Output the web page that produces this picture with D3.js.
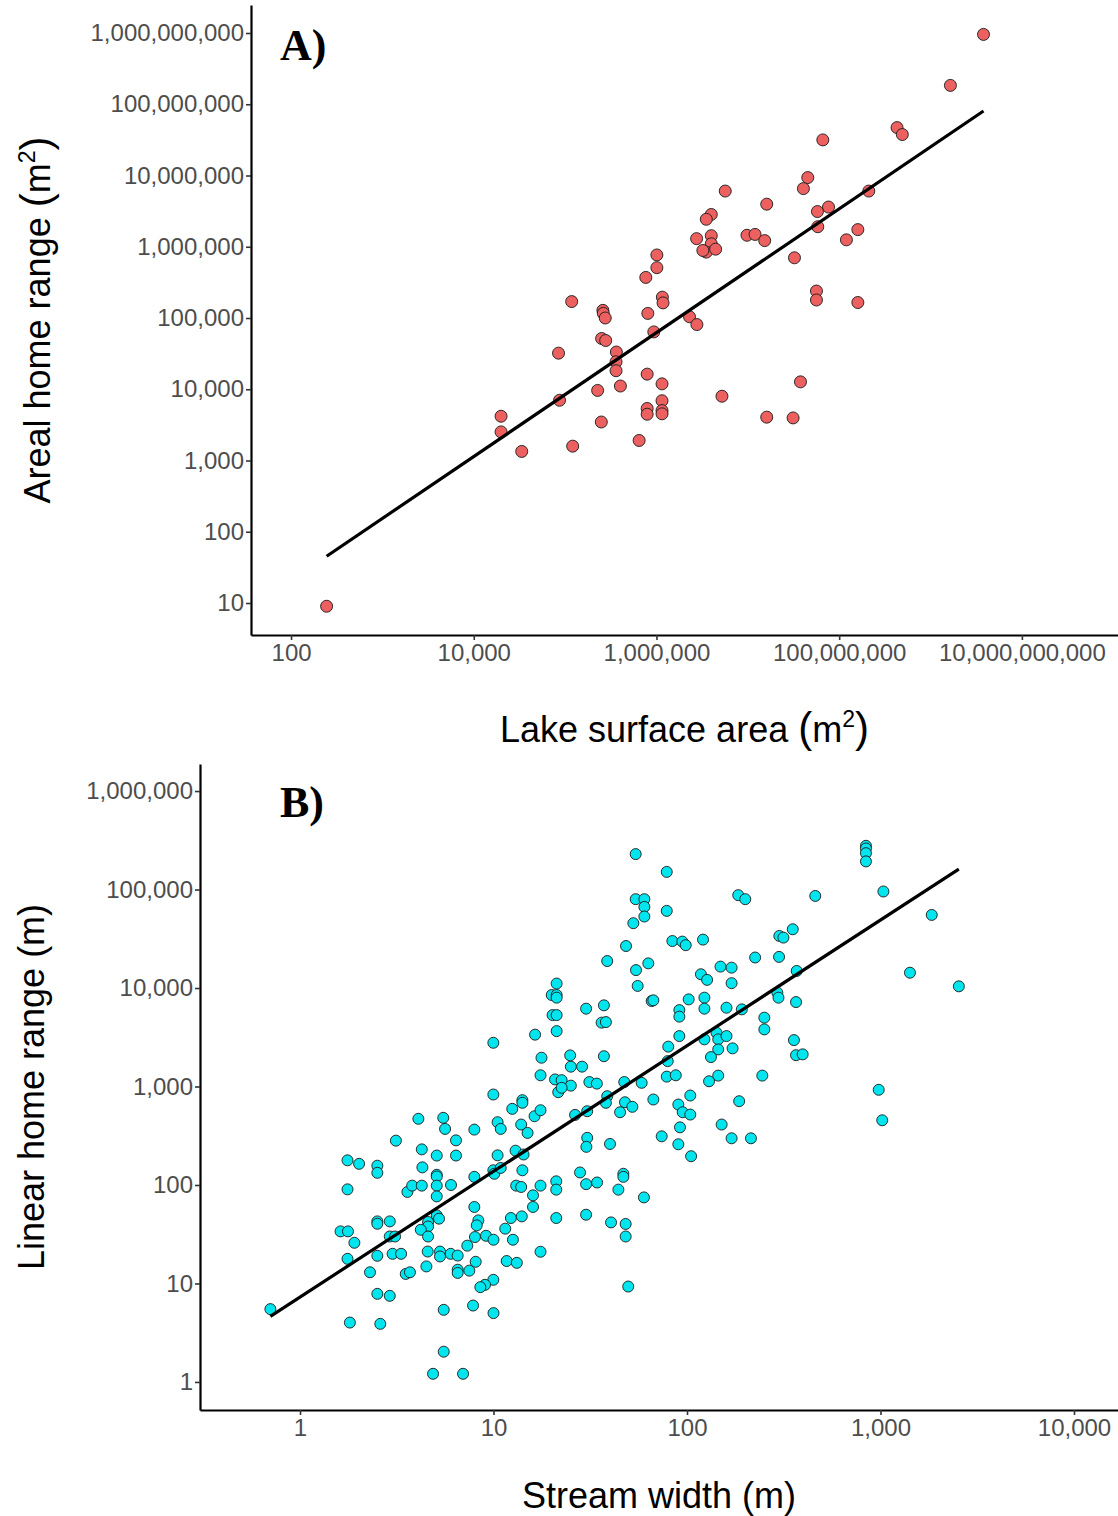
<!DOCTYPE html>
<html>
<head>
<meta charset="utf-8">
<script src="https://cdn.jsdelivr.net/npm/d3@7"></script>
<style>
  body { margin: 0; background: #ffffff; }
  svg { display: block; }
</style>
</head>
<body>
<svg id="chart" width="1118" height="1516"></svg>
<script>
// ---------- Panel A: lake surface area vs areal home range (both m^2) ----------
const lakeArea = [
  245, 19900, 19900, 33500, 84700, 86900, 121000, 118000, 227000, 249000,
  251000, 278000, 259000, 262000, 275000, 364000, 361000, 361000, 403000, 646000,
  791000, 791000, 791000, 804000, 764000, 1010000, 1010000, 935000, 1160000, 1180000,
  1150000, 1150000, 1150000, 1150000,
  3.80e9, 1.65e9, 4.30e8, 4.91e8, 6.62e7, 4.53e7, 4.06e7, 2.11e8, 7.64e7, 5.78e7,
  5.83e7, 1.60e8, 1.20e8, 3.24e7, 5.64e7, 5.64e7, 1.60e8, 5.66e6, 1.61e7, 3.98e6,
  3.51e6, 2.75e6, 3.98e6, 3.98e6, 3.51e6, 3.22e6, 4.44e6, 9.79e6, 1.20e7, 1.53e7,
  2.30e6, 2.77e6, 3.77e7, 5.21e6, 1.61e7, 3.13e7
];
const arealRange = [
  9.0, 4180, 2520, 1340, 32100, 7000, 1590, 170000, 9620, 3470,
  51600, 48300, 128000, 116000, 100000, 33300, 24300, 18200, 11100, 1910,
  5370, 4460, 16300, 116000, 371000, 767000, 509000, 63800, 196000, 163000,
  11900, 6900, 5020, 4520,
  9.55e8, 1.84e8, 4.70e7, 3.76e7, 3.16e7, 9.35e6, 6.55e6, 6.05e6, 3.61e6, 3.12e6,
  1.91e6, 1.74e6, 1.25e6, 7.0e5, 2.39e5, 1.79e5, 1.65e5, 6.05e6, 3.96e6, 2.84e6,
  2.43e6, 1.30e6, 1.43e6, 1.10e6, 8.41e5, 8.87e5, 9.25e5, 1.45e6, 1.49e6, 1.22e6,
  1.04e5, 8.09e4, 1.27e4, 7.98e3, 4.06e3, 3.96e3
];
// log10(range) = intercept + slope * log10(area)
const fitA = [-0.420, 0.869];
const areaTicksX = [1e2, 1e4, 1e6, 1e8, 1e10];
const areaTicksY = [1e1, 1e2, 1e3, 1e4, 1e5, 1e6, 1e7, 1e8, 1e9];

// ---------- Panel B: stream width (m) vs linear home range (m) ----------
const streamWidth = [
  0.703, 1.76, 2.02, 2.51, 2.51, 3.13, 4.26, 4.09, 4.29, 1.76,
  3.59, 3.80, 4.26, 2.51, 2.51, 2.91, 4.59, 4.59, 4.21, 4.59,
  1.62, 1.77, 1.91, 2.91, 3.10, 1.76, 2.51, 3.01, 3.33, 4.57,
  4.50, 2.30, 3.52, 3.70, 2.51, 2.91, 1.81, 2.60, 4.87,
  9.98, 14.1, 14.1, 12.5, 16.3, 17.5, 5.50, 5.62, 7.96, 10.5,
  10.9, 13.9, 15.0, 6.40, 5.09, 6.40, 10.5, 13.0, 14.3, 26.4,
  30.5, 30.5, 30.2, 21.6, 5.09, 5.09, 5.09, 5.09, 6.03, 7.96,
  9.98, 10.1, 10.9, 14.1, 13.1, 13.9, 17.5, 16.0, 16.0, 21.1,
  21.1, 28.0, 30.1, 34.3, 5.09, 5.23, 7.96, 8.35, 8.19, 8.02,
  9.15, 10.0, 11.5, 12.3, 14.0, 12.6, 21.1, 30.1, 7.32, 5.29,
  5.29, 6.01, 6.53, 17.5, 8.09, 7.50, 6.53, 6.53, 11.7, 13.2,
  9.98, 9.04, 8.55, 5.53, 7.84, 10.0, 5.53, 6.96,
  16.4, 9.98, 25.1, 28.7, 17.5, 20.8, 22.5, 25.1, 31.3, 34.2, 22.5,
  54.3, 78.6, 54.3, 60.2, 60.2, 60.2, 52.8, 78.6, 48.4, 84.0,
  94.6, 98.5, 121, 21.2, 20.0, 21.2, 21.2, 20.2, 21.2, 21.2,
  30.1, 17.7, 24.9,
  38.7, 54.5, 63.1, 55.6, 65.7, 67.0, 37.2, 36.2, 38.1, 102,
  118, 127, 149, 170, 170, 369, 91.3, 91.3, 123, 123,
  160, 192, 293, 297, 366, 251, 251, 357, 366, 37.2,
  91.3, 80.0, 79.5, 123, 142, 145, 160, 145, 133, 172,
  78.6, 87.5, 58.3, 47.4, 145, 130, 245, 38.7, 38.1, 47.8,
  52.2, 45.1, 67.0, 104, 90.2, 95.0, 104, 186,
  40.0, 74.0, 92.0, 90.2, 105, 151, 170, 214, 46.9, 46.9,
  44.2, 59.9, 40.5, 48.2, 48.2, 49.7,
  979, 1021,
  841, 841, 841, 841, 184, 200, 460, 1035, 1840, 352,
  300, 315, 225, 299, 1420, 2540, 396
];
const linearRange = [
  5.49, 178, 164, 157, 133, 282, 230, 470, 151, 90.3,
  85, 98.5, 98.5, 42.7, 40.4, 42.7, 42.1, 37.9, 35.1, 30.0,
  33.8, 33.8, 25.9, 30.0, 30.0, 17.8, 19.1, 20.0, 20.0, 21.1,
  14.9, 13.0, 12.5, 13.0, 7.85, 7.49, 4.01, 3.89, 1.21,
  829, 726, 683, 593, 499, 574, 481, 371, 365, 434,
  371, 411, 338, 284, 199, 199, 200, 223, 204, 515,
  561, 301, 244, 875, 127, 122, 98.5, 76.6, 100, 121,
  141, 130, 149, 141, 98.5, 95.5, 98.5, 78.5, 59.8, 109,
  89.7, 134, 102, 106, 49.1, 45.5, 59.8, 43.7, 38.9, 29.6,
  30.5, 27.8, 36.0, 46.2, 48.0, 27.8, 46.2, 49.9, 24.2, 21.1,
  18.8, 20.0, 19.2, 21.0, 16.6, 13.5, 13.8, 12.8, 16.9, 16.2,
  10.9, 9.69, 9.18, 5.40, 5.97, 5.00, 2.03, 1.21,
  3360, 2780, 1590, 1590, 1300, 1180, 1160, 1020, 1110, 1070, 970,
  229000, 151000, 79800, 79800, 66600, 53200, 45500, 60700, 26700, 30000,
  29600, 27200, 31000, 11100, 8490, 8490, 7980, 5310, 5310, 3650,
  6170, 1960, 2070,
  18800, 15200, 17800, 10500, 7380, 7500, 6670, 4450, 4510, 7670,
  13800, 12100, 16500, 16100, 11200, 14900, 5970, 5120, 7980, 6170,
  6310, 6070, 8970, 7980, 7200, 5000, 3800, 2960, 2080, 2030,
  3250, 2540, 1810, 3010, 3520, 3010, 3250, 2380, 1990, 2440,
  1260, 1300, 1090, 1110, 1290, 1130, 1290, 797, 683, 692,
  622, 548, 738, 810, 656, 548, 519, 709,
  261, 312, 385, 259, 196, 411, 298, 298, 130, 121,
  89.7, 74.8, 41.7, 40.2, 30.0, 9.31,
  926, 454,
  278000, 261000, 234000, 193000, 87700, 79800, 86100, 95500, 55200, 39500,
  33800, 32500, 20400, 20700, 14300, 10400, 2120
];
const fitB = [0.862, 1.276];
const widthTicksX = [1, 10, 100, 1000, 10000];
const linearTicksY = [1, 10, 100, 1e3, 1e4, 1e5, 1e6];

// ---------- drawing ----------
const svg = d3.select("#chart");
const fmt = d3.format(",");
const sans = "'Liberation Sans', Arial, Helvetica, sans-serif";
const serif = "'Liberation Serif', 'Times New Roman', Times, serif";

function drawPanel(p) {
  const g = svg.append("g");
  const x = d3.scaleLog().domain(p.xDomain).range([p.left, p.right]);
  const y = d3.scaleLog().domain(p.yDomain).range([p.bottom, p.top]);

  const xAxis = d3.axisBottom(x).tickValues(p.xTicks).tickFormat(fmt)
    .tickSize(5).tickSizeOuter(0).tickPadding(4);
  const yAxis = d3.axisLeft(y).tickValues(p.yTicks).tickFormat(fmt)
    .tickSize(5).tickSizeOuter(0).tickPadding(2);

  const gx = g.append("g").attr("transform", `translate(0,${p.bottom})`).call(xAxis);
  const gy = g.append("g").attr("transform", `translate(${p.left},0)`).call(yAxis);
  [gx, gy].forEach(a => {
    a.select(".domain").attr("stroke", "#000").attr("stroke-width", 2.2);
    a.selectAll(".tick line").attr("stroke", "#333").attr("stroke-width", 1.6);
    a.selectAll(".tick text").attr("fill", "#4d4d4d")
      .style("font-family", sans).style("font-size", "24px");
  });

  // points
  const pts = p.xs.map((v, i) => [v, p.ys[i]]);
  g.append("g").selectAll("circle").data(pts).join("circle")
    .attr("cx", d => x(d[0])).attr("cy", d => y(d[1]))
    .attr("r", p.r)
    .attr("fill", p.fill).attr("stroke", "#1a1a1a").attr("stroke-width", 0.9);

  // fitted line in log-log space across the observed x range
  const ext = d3.extent(p.xs);
  const fitPts = ext.map(v => [v, Math.pow(10, p.fit[0] + p.fit[1] * Math.log10(v))]);
  g.append("path").datum(fitPts)
    .attr("d", d3.line().x(d => x(d[0])).y(d => y(d[1])))
    .attr("fill", "none").attr("stroke", "#000").attr("stroke-width", 3.2);

  // panel letter
  g.append("text").attr("x", p.left + p.tagDx).attr("y", p.top + p.tagDy)
    .style("font-family", serif).style("font-weight", "bold").style("font-size", "44px")
    .attr("fill", "#000").text(p.tag);

  // x title
  const xt = g.append("text")
    .attr("x", (p.left + p.right) / 2).attr("y", p.bottom + p.xTitleDy)
    .attr("text-anchor", "middle")
    .style("font-family", sans).style("font-size", "36px").attr("fill", "#000");
  addTitle(xt, p.xTitle);

  // y title
  const yt = g.append("text")
    .attr("transform", `translate(${p.yTitleX},${(p.top + p.bottom) / 2}) rotate(-90)`)
    .attr("text-anchor", "middle")
    .style("font-family", sans).style("font-size", "36px").attr("fill", "#000");
  addTitle(yt, p.yTitle);
}

// title parts: [text, role] where role is "sup" (raised exponent) or "paren" (tall bracket)
function addTitle(sel, parts) {
  let shift = 0;
  parts.forEach(([t, role]) => {
    const ts = sel.append("tspan").text(t);
    if (role === "sup") {
      ts.attr("dy", -15 - shift).style("font-size", "23px");
      shift = -15;
    } else {
      if (shift !== 0) { ts.attr("dy", -shift); shift = 0; }
      if (role === "paren") ts.style("font-size", "42px");
    }
  });
}

drawPanel({
  xs: lakeArea, ys: arealRange, fit: fitA,
  xDomain: [Math.pow(10, 1.5616), Math.pow(10, 11.052)],
  yDomain: [Math.pow(10, 0.5509), Math.pow(10, 9.393)],
  left: 251, right: 1118, top: 5, bottom: 635,
  xTicks: areaTicksX, yTicks: areaTicksY,
  r: 6, fill: "#ec6060",
  tag: "A)", tagDx: 29, tagDy: 55,
  xTitle: [["Lake surface area "], ["(", "paren"], ["m"], ["2", "sup"], [")", "paren"]], xTitleDy: 107,
  yTitle: [["Areal home range "], ["(", "paren"], ["m"], ["2", "sup"], [")", "paren"]], yTitleX: 50
});

drawPanel({
  xs: streamWidth, ys: linearRange, fit: fitB,
  xDomain: [Math.pow(10, -0.5168), Math.pow(10, 4.2274)],
  yDomain: [Math.pow(10, -0.2847), Math.pow(10, 6.2746)],
  left: 200, right: 1118, top: 764, bottom: 1410,
  xTicks: widthTicksX, yTicks: linearTicksY,
  r: 5.5, fill: "#00e5ee",
  tag: "B)", tagDx: 80, tagDy: 53,
  xTitle: [["Stream width (m)"]], xTitleDy: 98,
  yTitle: [["Linear home range (m)"]], yTitleX: 44
});
</script>
</body>
</html>
